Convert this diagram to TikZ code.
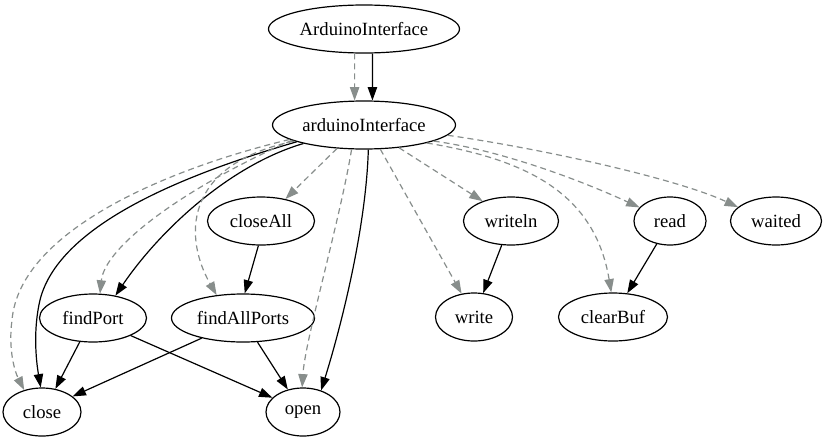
\documentclass[tikz,border=0pt]{standalone}
\usepackage{fontspec}
\setmainfont{Liberation Serif}
\usetikzlibrary{arrows.meta,shapes.geometric}
\definecolor{edgegray}{RGB}{136,142,140}
\begin{document}
\begin{tikzpicture}[x=0.75pt,y=-0.75pt,
  nd/.style={draw, ellipse, inner sep=0pt, minimum height=36pt, line width=0.9pt,
    font=\fontsize{14}{16}\selectfont},
  solidedge/.style={draw=black, line width=0.9pt, -{Triangle[length=10pt,width=7pt]}},
  dashededge/.style={draw=edgegray, line width=0.9pt, dash pattern=on 4.5pt off 3pt,
    -{Triangle[length=10pt,width=7pt,color=edgegray]}}]
\useasboundingbox (0,0) rectangle (827,443);
% nodes
\node[nd, minimum width=143.25pt] (AI) at (364,29) {ArduinoInterface};
\node[nd, minimum width=137.25pt] (ai) at (364,125) {arduinoInterface};
\node[nd, minimum width=80.25pt] (closeAll) at (261,221) {closeAll};
\node[nd, minimum width=71.25pt] (writeln) at (511,221) {writeln};
\node[nd, minimum width=54pt] (read) at (670,221) {read};
\node[nd, minimum width=68.25pt] (waited) at (776,221) {waited};
\node[nd, minimum width=80.25pt] (findPort) at (93,318) {findPort};
\node[nd, minimum width=107.25pt] (findAllPorts) at (243,318) {findAllPorts};
\node[nd, minimum width=57.75pt] (write) at (474,317) {write};
\node[nd, minimum width=81.75pt] (clearBuf) at (613,317) {clearBuf};
\node[nd, minimum width=58.5pt] (close) at (42,412) {close};
\node[nd, minimum width=55.5pt] (open) at (303,412) {open};
% top edges
\draw[dashededge] (AI.249) -- (ai.111);
\draw[solidedge] (AI.289) -- (ai.71);
% edges from arduinoInterface
\draw[dashededge] (ai.191) .. controls (170,168) and (20,230) .. (12,320)
  .. controls (8,350) and (15,372) .. (close.129);
\draw[solidedge] (ai.194) .. controls (200,170) and (60,220) .. (40,300)
  .. controls (33,330) and (36,360) .. (close.93);
\draw[dashededge] (ai.192) .. controls (190,185) and (105,245) .. (findPort.74);
\draw[solidedge] (ai.197) .. controls (230,165) and (160,230) .. (findPort.45);
\draw[dashededge] (ai.193) .. controls (180,165) and (185,240) .. (findAllPorts.139);
\draw[dashededge] (ai.221) -- (closeAll.42);
\draw[dashededge] (ai.243) .. controls (340,220) and (305,340) .. (open.92);
\draw[solidedge] (ai.280) .. controls (366,230) and (340,330) .. (open.50);
\draw[dashededge] (ai.304) -- (write.118);
\draw[dashededge] (ai.327) -- (writeln.145);
\draw[dashededge] (ai.344) .. controls (530,160) and (595,195) .. (clearBuf.94);
\draw[dashededge] (ai.347) .. controls (500,150) and (580,180) .. (read.156);
\draw[dashededge] (ai.353) .. controls (550,150) and (680,180) .. (waited.160);
% lower edges
\draw[solidedge] (closeAll.264) -- (findAllPorts.86);
\draw[solidedge] (findPort.241) -- (close.60);
\draw[solidedge] (findPort.335) -- (open.155);
\draw[solidedge] (findAllPorts.206) -- (close.27);
\draw[solidedge] (findAllPorts.301) -- (open.124);
\draw[solidedge] (writeln.249) -- (write.69);
\draw[solidedge] (read.240) -- (clearBuf.59);
\end{tikzpicture}
\end{document}
